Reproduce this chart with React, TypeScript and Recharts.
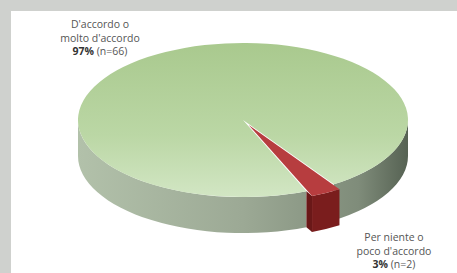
import React from "react";
import { PieChart, Pie } from "recharts";

// survey answers
const categories = ["D'accordo o molto d'accordo", "Per niente o poco d'accordo"];
const labelTop = ["D'accordo o", "Per niente o"];
const labelMid = ["molto d'accordo", "poco d'accordo"];
const percents = [97, 3];
const counts = [66, 2];

const data = categories.map((name, i) => ({ name, value: percents[i], n: counts[i] }));

// look of the fake 3D pie
const K = 0.467; // vertical squash of the disc
const DEPTH = 36;
const RAD = Math.PI / 180;
const START = -56.6;
const EXPLODE: Record<string, number> = { "Per niente o poco d'accordo": 12 };
const TOP_FILL = ["url(#greenTop)", "#b73d3f"];
const SIDE_FILL = ["url(#greenSide)", "#7a1d1d"];
const EDGE_FILL = ["#6f7c6b", "#6a1818"];
const LABEL_POS = [
    { x: 100, y: 28 },
    { x: 394, y: 241 },
];

const pt = (cx: number, cy: number, r: number, deg: number): [number, number] => [
    cx + r * Math.cos(deg * RAD),
    cy - r * K * Math.sin(deg * RAD),
];

const Slice3D = (props: any) => {
    const { outerRadius: r, startAngle, endAngle, payload, name } = props;
    const idx = Math.max(0, categories.indexOf(payload?.name ?? name));
    const a = Math.min(startAngle, endAngle);
    const b = Math.max(startAngle, endAngle);
    const mid = (a + b) / 2;
    const e = EXPLODE[categories[idx]] || 0;
    const cx = props.cx + e * Math.cos(mid * RAD);
    const cy = props.cy - e * K * Math.sin(mid * RAD);
    const ry = r * K;

    // outer wall, only the part facing the viewer
    const sides: React.ReactNode[] = [];
    for (let n = -1; n <= 2; n++) {
        const s = Math.max(a, 180 + 360 * n);
        const t = Math.min(b, 360 + 360 * n);
        if (t > s) {
            const [x1, y1] = pt(cx, cy, r, s);
            const [x2, y2] = pt(cx, cy, r, t);
            const large = t - s > 180 ? 1 : 0;
            sides.push(
                <path
                    key={"s" + n}
                    d={`M${x1},${y1} A${r},${ry} 0 ${large} 0 ${x2},${y2} L${x2},${y2 + DEPTH} A${r},${ry} 0 ${large} 1 ${x1},${y1 + DEPTH} Z`}
                    fill={SIDE_FILL[idx]}
                />
            );
        }
    }

    // bit of the cut face that shows in the gap of an exploded slice
    let gap: React.ReactNode = null;
    if (e > 0) {
        const [x0, y0] = pt(props.cx, props.cy, r, a);
        const [x1, y1] = pt(cx, cy, r, a);
        gap = (
            <path
                d={`M${x0},${y0} L${x1},${y1} L${x1},${y1 + DEPTH} L${x0},${y0 + DEPTH} Z`}
                fill={EDGE_FILL[idx]}
            />
        );
    }

    const [xa, ya] = pt(cx, cy, r, a);
    const [xb, yb] = pt(cx, cy, r, b);
    const large = b - a > 180 ? 1 : 0;
    const top = `M${cx},${cy} L${xa},${ya} A${r},${ry} 0 ${large} 0 ${xb},${yb} Z`;

    return (
        <g>
            {gap}
            {sides}
            <path d={top} fill={TOP_FILL[idx]} />
        </g>
    );
};

const renderLabel = (props: any) => {
    const i = props.index;
    const p = LABEL_POS[i];
    return (
        <text
            x={p.x}
            y={p.y}
            textAnchor="middle"
            fill="#555"
            fontSize={10.5}
            fontFamily="'Open Sans', sans-serif"
        >
            <tspan x={p.x} dy={0}>{labelTop[i]}</tspan>
            <tspan x={p.x} dy={13.5}>{labelMid[i]}</tspan>
            <tspan x={p.x} dy={13.5}>
                <tspan fontWeight="bold" fill="#333">{percents[i]}%</tspan> (n={counts[i]})
            </tspan>
        </text>
    );
};

export default function App() {
    return (
        <div
            style={{
                position: "fixed",
                left: 0,
                top: 0,
                width: 457,
                height: 273,
                background: "#cfd1ce",
                overflow: "hidden",
            }}
        >
            <div style={{ position: "absolute", left: 11, top: 11, right: 0, bottom: 0, background: "#fff" }} />
            <div style={{ position: "absolute", left: 0, top: 0 }}>
                <PieChart width={457} height={273} margin={{ top: 0, right: 0, bottom: 0, left: 0 }}>
                    <defs>
                        <linearGradient id="greenTop" x1="0" y1="43" x2="0" y2="197" gradientUnits="userSpaceOnUse">
                            <stop offset="0" stopColor="#a9c98e" />
                            <stop offset="0.6" stopColor="#bbd7a5" />
                            <stop offset="1" stopColor="#d2e6c4" />
                        </linearGradient>
                        <linearGradient id="greenSide" x1="78" y1="0" x2="408" y2="0" gradientUnits="userSpaceOnUse">
                            <stop offset="0" stopColor="#b2c1aa" />
                            <stop offset="0.5" stopColor="#9ca995" />
                            <stop offset="0.85" stopColor="#7f8c7a" />
                            <stop offset="1" stopColor="#566253" />
                        </linearGradient>
                    </defs>
                    <Pie
                        data={data}
                        dataKey="value"
                        nameKey="name"
                        cx={243}
                        cy={120}
                        innerRadius={0}
                        outerRadius={165}
                        startAngle={START}
                        endAngle={START + 360}
                        stroke="none"
                        shape={Slice3D}
                        label={renderLabel}
                        labelLine={false}
                        isAnimationActive={false}
                    />
                </PieChart>
            </div>
        </div>
    );
}
